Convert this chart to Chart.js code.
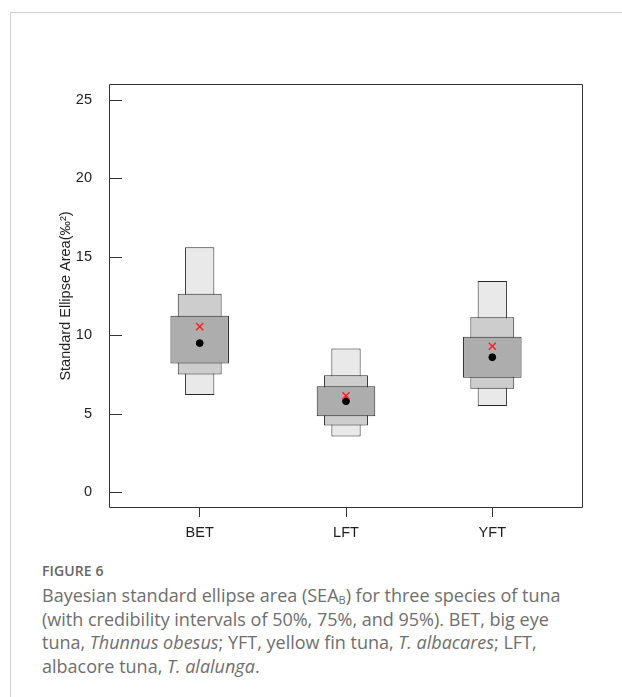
<!DOCTYPE html>
<html>
<head>
<meta charset="utf-8">
<script src="https://cdn.jsdelivr.net/npm/chart.js@4.4.1/dist/chart.umd.min.js"></script>
<style>
  html, body { margin: 0; padding: 0; background: #fff; }
  body { width: 622px; height: 697px; position: relative; overflow: hidden; }
  #frame { position: absolute; left: 10px; top: 12px; right: 0; bottom: 0;
           border-top: 1px solid #cfcfcf; border-left: 1px solid #cfcfcf; }
  #plot { position: absolute; left: 0; top: 0; }
  #caption { position: absolute; left: 42px; top: 561px; font-family: "Open Sans", sans-serif;
             color: #6e6e6e; white-space: nowrap; }
  #caption .fig { font-size: 14px; font-weight: 600; color: #666; line-height: 20px; letter-spacing: 0.1px; }
  #caption .txt { font-size: 18px; line-height: 23.5px; margin-top: 3px; }
  #caption sub { font-size: 11px; vertical-align: -2px; line-height: 0; }
</style>
</head>
<body>
<div id="frame"></div>
<canvas id="plot" width="622" height="560"></canvas>
<div id="caption">
  <div class="fig">FIGURE 6</div>
  <div class="txt">Bayesian standard ellipse area (SEA<sub>B</sub>) for three species of tuna<br>(with credibility intervals of 50%, 75%, and 95%). BET, big eye<br>tuna, <i>Thunnus obesus</i>; YFT, yellow fin tuna, <i>T. albacares</i>; LFT,<br>albacore tuna, <i>T. alalunga</i>.</div>
</div>
<script>
// Species groups along the x axis
const categories = ['BET', 'LFT', 'YFT'];

// Credibility intervals of SEA_B (‰²)
const ci95Low  = [6.2, 3.55, 5.5];
const ci95High = [15.6, 9.15, 13.45];
const ci75Low  = [7.5, 4.25, 6.6];
const ci75High = [12.65, 7.45, 11.15];
const ci50Low  = [8.2, 4.85, 7.3];
const ci50High = [11.25, 6.75, 9.9];

// Mode of the posterior (black dot) and sample-size corrected SEA_c (red x)
const modeValues = [9.5, 5.8, 8.6];
const seaCValues = [10.55, 6.15, 9.3];

// Y axis tick labels
const yTicks = [0, 5, 10, 15, 20, 25];

const pos = categories.map((_, i) => i + 1);
const band = (lo, hi) => pos.map((x, i) => ({ x, y: [lo[i], hi[i]] }));
const pts = vals => pos.map((x, i) => ({ x, y: vals[i] }));

const boxStyle = { borderColor: '#262626', borderWidth: 1, borderSkipped: false, grouped: false, categoryPercentage: 1 };
const axisFont = { family: 'Liberation Sans, Arial, sans-serif', size: 14.5 };

// Plot frame plus inward-pointing y ticks
const frameTicks = {
  id: 'frameTicks',
  afterDatasetsDraw(chart) {
    const { ctx, chartArea: { left, right, top, bottom }, scales: { y } } = chart;
    ctx.save();
    ctx.strokeStyle = '#333';
    ctx.lineWidth = 1;
    ctx.beginPath();
    ctx.rect(left + 0.5, top + 0.5, right - left - 1, bottom - top - 1);
    y.ticks.forEach(t => {
      const py = Math.round(y.getPixelForValue(t.value)) + 0.5;
      ctx.moveTo(left, py);
      ctx.lineTo(left + 13, py);
    });
    ctx.stroke();
    ctx.restore();
  }
};

new Chart(document.getElementById('plot'), {
  type: 'bar',
  data: {
    datasets: [
      { type: 'scatter', data: pts(seaCValues), pointStyle: 'crossRot', radius: 5, borderColor: '#ff1a1a', borderWidth: 1.4, backgroundColor: '#ff1a1a', order: 0 },
      { type: 'scatter', data: pts(modeValues), pointStyle: 'circle', radius: 3.4, borderColor: '#000', backgroundColor: '#000', borderWidth: 1, order: 1 },
      Object.assign({ data: band(ci50Low, ci50High), backgroundColor: '#adadad', barPercentage: 0.4, order: 2 }, boxStyle),
      Object.assign({ data: band(ci75Low, ci75High), backgroundColor: '#cdcdcd', barPercentage: 0.3, order: 3 }, boxStyle),
      Object.assign({ data: band(ci95Low, ci95High), backgroundColor: '#e9e9e9', barPercentage: 0.2, order: 4 }, boxStyle)
    ]
  },
  options: {
    responsive: false,
    animation: false,
    layout: { padding: { top: 84, right: 39, left: 0, bottom: 0 } },
    plugins: { legend: { display: false }, tooltip: { enabled: false } },
    scales: {
      x: {
        type: 'linear', min: 0.38, max: 3.62, offset: false,
        afterBuildTicks: s => { s.ticks = pos.map(v => ({ value: v })); },
        afterFit: s => { s.height = 52; },
        grid: { drawOnChartArea: false, drawTicks: true, tickLength: 9, color: '#333', offset: false },
        border: { display: false },
        ticks: {
          callback: v => categories[v - 1] || '',
          color: '#1e1e1e', padding: 7, maxRotation: 0, autoSkip: false,
          font: axisFont
        }
      },
      y: {
        type: 'linear', min: -1, max: 26,
        afterBuildTicks: s => { s.ticks = yTicks.map(v => ({ value: v })); },
        afterFit: s => { s.width = 109; },
        grid: { display: false, drawTicks: false },
        border: { display: false },
        ticks: {
          color: '#1e1e1e', padding: 17,
          font: axisFont
        },
        title: {
          display: true, text: 'Standard Ellipse Area(‰²)', color: '#1e1e1e',
          padding: { top: 57, bottom: 0 },
          font: axisFont
        }
      }
    }
  },
  plugins: [frameTicks]
});
</script>
</body>
</html>
